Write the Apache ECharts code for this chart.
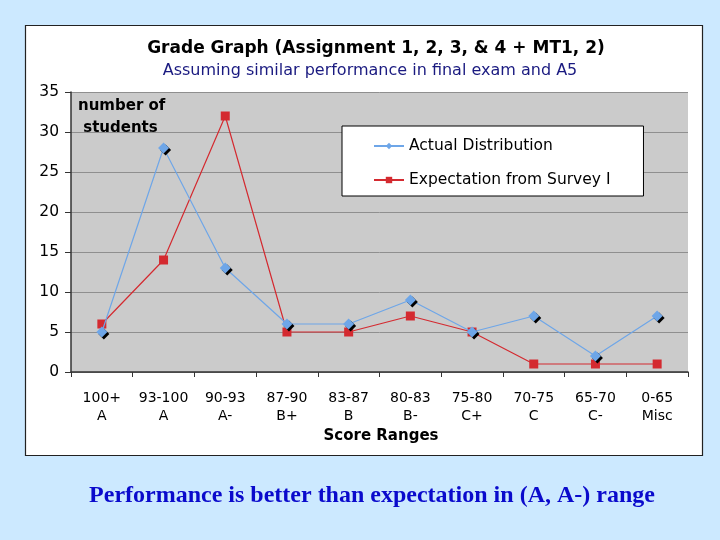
<!DOCTYPE html>
<html><head><meta charset="utf-8">
<script src="https://cdn.jsdelivr.net/npm/echarts@6/dist/echarts.min.js"></script>
<style>html,body{margin:0;padding:0;background:#cce9ff;}#c{width:720px;height:540px;}</style>
</head><body><div id="c"></div>
<script>
var categories = ['100+\nA','93-100\nA','90-93\nA-','87-90\nB+','83-87\nB','80-83\nB-','75-80\nC+','70-75\nC','65-70\nC-','0-65\nMisc'];
var actual = [5, 28, 13, 6, 6, 9, 5, 7, 2, 7];
var expectation = [6, 14, 32, 5, 5, 7, 5, 1, 1, 1];
var yTicks = [0, 5, 10, 15, 20, 25, 30, 35];

var chart = echarts.init(document.getElementById('c'), null, {renderer:'canvas'});
var font = 'DejaVu Sans, Verdana, sans-serif';
chart.setOption({
  backgroundColor: '#cce9ff',
  animation: false,
  graphic: [{
    type: 'rect', shape: {x: 25.5, y: 25.5, width: 677, height: 430}, z: -10,
    style: {fill: '#ffffff', stroke: '#222', lineWidth: 1.2}
  }],
  title: [
    {text: 'Grade Graph (Assignment 1, 2, 3, & 4 + MT1, 2)', left: 376, top: 40, textAlign: 'center', padding: 0,
     textStyle: {fontFamily: font, fontSize: 17, fontWeight: 'bold', color: '#000'}},
    {text: 'Assuming similar performance in final exam and A5', left: 370, top: 63, textAlign: 'center', padding: 0,
     textStyle: {fontFamily: font, fontSize: 16, fontWeight: 'normal', color: '#1a1a80'}},
    {text: 'number of\n students', left: 78, top: 95, padding: 0,
     textStyle: {fontFamily: font, fontSize: 15, fontWeight: 'bold', color: '#000', lineHeight: 22}},
    {text: 'Score Ranges', left: 381, top: 429, textAlign: 'center', padding: 0,
     textStyle: {fontFamily: font, fontSize: 15, fontWeight: 'bold', color: '#000'}},
    {text: 'Performance is better than expectation in (A, A-) range', left: 372, top: 484, textAlign: 'center', padding: 0,
     textStyle: {fontFamily: 'Liberation Serif, Times New Roman, serif', fontSize: 24, fontWeight: 'bold', color: '#0a0acc'}}
  ],
  legend: {
    left: 342, top: 126, orient: 'vertical',
    backgroundColor: '#fff', borderColor: '#000', borderWidth: 1,
    padding: [12, 33, 8, 31], itemGap: 18, itemWidth: 30, itemHeight: 8,
    textStyle: {fontFamily: font, fontSize: 15.5, color: '#000'},
    data: ['Actual Distribution', 'Expectation from Survey I']
  },
  grid: {left: 71, right: 32, top: 92, bottom: 168, show: true, backgroundColor: '#cbcbcb', borderWidth: 0},
  xAxis: {
    type: 'category', data: categories, boundaryGap: true,
    axisLine: {lineStyle: {color: '#333', width: 1.5}},
    axisTick: {show: true, interval: 0, length: 5, lineStyle: {color: '#333'}},
    axisLabel: {interval: 0, fontFamily: font, fontSize: 14, color: '#000', lineHeight: 18, margin: 17}
  },
  yAxis: {
    type: 'value', min: yTicks[0], max: yTicks[yTicks.length - 1], interval: 5,
    axisLine: {show: true, lineStyle: {color: '#333', width: 1.5}},
    axisTick: {show: true, length: 6, lineStyle: {color: '#333'}},
    axisLabel: {fontFamily: font, fontSize: 15.5, color: '#000', margin: 12},
    splitLine: {lineStyle: {color: '#8f8f8f', width: 1}}
  },
  series: [
    {name: 'Actual Distribution', type: 'line', data: actual, symbol: 'diamond', symbolSize: 11,
     lineStyle: {color: '#6ea6e8', width: 1.2},
     itemStyle: {color: '#6ea6e8', shadowColor: '#000', shadowOffsetX: 2, shadowOffsetY: 2, shadowBlur: 0},
     z: 3},
    {name: 'Expectation from Survey I', type: 'line', data: expectation, symbol: 'rect', symbolSize: 9,
     lineStyle: {color: '#d42a30', width: 1.2},
     itemStyle: {color: '#d42a30'}, z: 2}
  ]
});
</script></body></html>
